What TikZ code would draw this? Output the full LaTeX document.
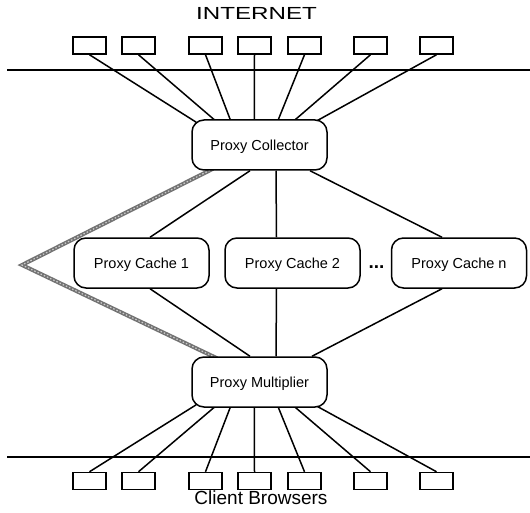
\documentclass[tikz,border=0pt]{standalone}
\usepackage{fontspec}
\setmainfont{Liberation Sans}
\newfontfamily\widefont[FakeStretch=1.38]{Liberation Sans}
\usetikzlibrary{backgrounds}

\tikzset{
  proxy/.style={draw, line width=1.5pt, rounded corners=12pt, fill=white,
                minimum width=135pt, minimum height=50pt, text depth=0pt,
                font=\fontsize{14.5}{16}\selectfont},
  host/.style={draw, line width=1.5pt, fill=white, minimum width=33pt,
               minimum height=17pt, inner sep=0pt},
  link/.style={line width=1.5pt},
  feed/.style={line width=4pt, draw=gray!90!black,
               postaction={draw=white!60!gray, line width=1.2pt, dash pattern=on 1.5pt off 2pt}},
}

\begin{document}
\begin{tikzpicture}[x=1pt, y=-1pt]
  \useasboundingbox (0,0) rectangle (530,513);
  % labels
  \node (net) at (256.5,13.3) {\widefont\fontsize{17.5}{20}\selectfont INTERNET};
  \node (cb) at (261,498) {\fontsize{19}{22}\selectfont Client Browsers};
  % servers and browsers
  \foreach \x [count=\i] in {89.5,138.5,205.5,254.5,304.5,370.5,436.5} {
    \node[host] (sv\i) at (\x,45.5) {};
    \node[host] (cl\i) at (\x,481) {};
  }
  % proxies
  \node[proxy] (col) at (259.5,145) {Proxy Collector};
  \node[proxy] (pc1) at (141.5,263) {Proxy Cache 1};
  \node[proxy] (pc2) at (292.5,263) {Proxy Cache 2};
  \node[proxy] (pcn) at (459,263) {Proxy Cache n};
  \node[anchor=base, font=\fontsize{19}{20}\selectfont\bfseries] (dots) at (376.5,269) {...};
  \node[proxy] (mul) at (259.5,382) {Proxy Multiplier};
  \coordinate (bend) at (22,265);
  % network lines
  \draw[link] (7,70) -- (530,70)
              (7,457) -- (530,457);
  \begin{scope}[on background layer]
    \foreach \dx [count=\i] in {5,26,40,63,86,101,123} {
      \draw[link] (sv\i.south) -- ([xshift=\dx pt, yshift=-3pt]col.north west);
      \draw[link] (cl\i.north) -- ([xshift=\dx pt, yshift=3pt]mul.south west);
    }
    \draw[link] ([xshift=-9.5pt]col.south) -- ([xshift=8.5pt]pc1.north)
                ([xshift=16.5pt]col.south) -- ([xshift=-16pt]pc2.north)
                ([xshift=50.5pt]col.south) -- ([xshift=-17pt]pcn.north);
    \draw[link] ([xshift=8.5pt]pc1.south) -- ([xshift=-9.5pt]mul.north)
                ([xshift=-16pt]pc2.south) -- ([xshift=16.5pt]mul.north)
                ([xshift=-17pt]pcn.south) -- ([xshift=52.5pt]mul.north);
    \draw[feed] ([xshift=-46.5pt, yshift=2pt]col.south) -- (bend) -- ([xshift=-42.5pt, yshift=-2pt]mul.north);
  \end{scope}
\end{tikzpicture}
\end{document}
